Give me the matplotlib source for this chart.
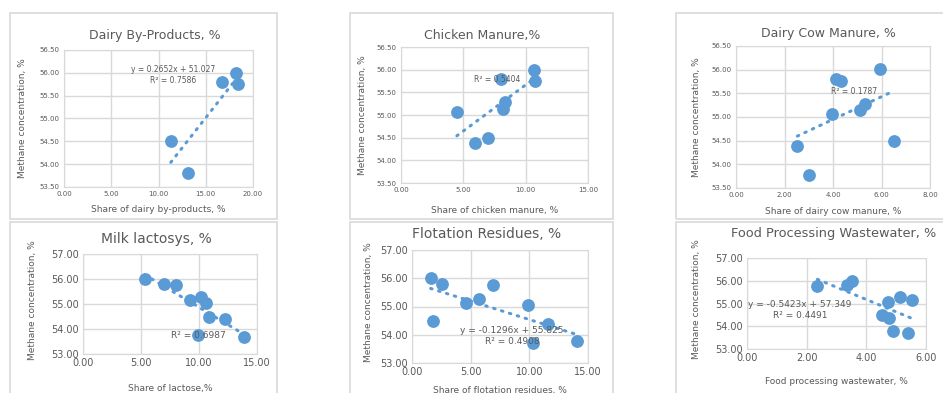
import numpy as np
import matplotlib
matplotlib.use("Agg")
import matplotlib.pyplot as plt
from matplotlib.patches import Rectangle

W, H = 943, 393
blue = "#5B9BD5"
grey = "#595959"
grid_c = "#D9D9D9"

# ~~~~~~~~ data ~~~~~~~~
dairy_x = [11.3, 13.15, 16.75, 18.25, 18.45]
dairy_y = [54.50, 53.80, 55.80, 56.00, 55.75]

chicken_x = [4.48, 5.92, 6.94, 8.06, 8.19, 8.33, 10.68, 10.73]
chicken_y = [55.07, 54.38, 54.50, 55.80, 55.14, 55.28, 56.00, 55.75]

cow_x = [2.53, 3.01, 3.95, 4.14, 4.33, 5.10, 5.34, 5.92, 6.51]
cow_y = [54.38, 53.78, 55.06, 55.81, 55.76, 55.14, 55.27, 56.01, 54.49]

lactose_x = [5.32, 7.01, 8.05, 9.25, 10.17, 9.95, 10.6, 10.86, 12.27, 13.85]
lactose_y = [56.00, 55.80, 55.76, 55.17, 55.27, 53.76, 55.06, 54.50, 54.40, 53.70]

flot_x = [1.59, 1.79, 2.59, 4.63, 5.71, 6.93, 9.89, 10.31, 11.59, 14.09]
flot_y = [56.01, 54.49, 55.81, 55.14, 55.28, 55.75, 55.06, 53.71, 54.39, 53.78]

food_x = [2.36, 3.35, 3.51, 4.72, 5.13, 5.54, 4.54, 4.77, 4.91, 5.39]
food_y = [55.76, 55.81, 56.01, 55.05, 55.28, 55.15, 54.50, 54.38, 53.81, 53.70]

titles = ["Dairy By-Products, %", "Chicken Manure,%", "Dairy Cow Manure, %",
          "Milk lactosys, %", "Flotation Residues, %", "Food Processing Wastewater, %"]
xlabels = ["Share of dairy by-products, %", "Share of chicken manure, %",
           "Share of dairy cow manure, %", "Share of lactose,%",
           "Share of flotation residues, %", "Food processing wastewater, %"]
ylabel = "Methane concentration, %"
trend_text = ["y = 0.2652x + 51.027\nR\u00b2 = 0.7586", "R\u00b2 = 0.5404", "R\u00b2 = 0.1787",
              "R\u00b2 = 0.6987", "y = -0.1296x + 55.825\nR\u00b2 = 0.4908",
              "y = -0.5423x + 57.349\nR\u00b2 = 0.4491"]
xticks_all = [[0, 5, 10, 15, 20], [0, 5, 10, 15], [0, 2, 4, 6, 8],
              [0, 5, 10, 15], [0, 5, 10, 15], [0, 2, 4, 6]]
ylims = [(53.5, 56.5)] * 3 + [(53, 57)] * 3
ysteps = [0.5] * 3 + [1.0] * 3

xs = [dairy_x, chicken_x, cow_x, lactose_x, flot_x, food_x]
ys = [dairy_y, chicken_y, cow_y, lactose_y, flot_y, food_y]

# ~~~~~~~~ layout in pixels ~~~~~~~~
frames = [(10, 13, 277, 219), (350, 13, 613, 219), (676, 13, 950, 219),
          (10, 222, 277, 400), (350, 222, 613, 400), (676, 222, 950, 400)]
plots = [(64, 50, 253, 187), (401, 47, 588, 183), (736, 46, 930, 188),
         (83, 254, 257, 354), (412, 250, 588, 363), (747, 258, 926, 349)]
title_pos = [(155, 35), (482, 35), (828, 33), (156, 239), (487, 234), (834, 234)]
ylab_x = [23, 362, 697, 32, 368, 696]
xlab_y = [210, 211, 211, 388, 390, 382]
text_pos = [(173, 75), (497, 79), (854, 91), (198, 336), (512, 336), (800, 310)]
tick_fs = [5, 5, 5, 7, 7, 7]
title_fs = [9, 9, 9, 10, 10, 9.3]

fig = plt.figure(figsize=(W / 100, H / 100), dpi=100)


def fx(x):
    return x / W


def fy(y):
    return 1 - y / H


for k in range(6):
    x0, y0, x1, y1 = frames[k]
    fig.patches.append(Rectangle((fx(x0), fy(y1)), fx(x1 - x0), (y1 - y0) / H,
                                 transform=fig.transFigure, fill=False,
                                 edgecolor=grid_c, lw=1.2))

    x0, y0, x1, y1 = plots[k]
    ax = fig.add_axes([fx(x0), fy(y1), fx(x1 - x0), (y1 - y0) / H])
    xd = np.array(xs[k])
    yd = np.array(ys[k])

    # linear trendline, fitted like Excel does
    p = np.polyfit(xd, yd, 1)
    xl = np.linspace(xd.min(), xd.max(), 50)
    ax.plot(xl, np.polyval(p, xl), ls=(0, (0.5, 2.2)), lw=2.2, color=blue,
            dash_capstyle="round", zorder=2)
    ax.scatter(xd, yd, s=85, color=blue, zorder=3, linewidths=0)

    xt = xticks_all[k]
    ax.set_xlim(xt[0], xt[-1])
    ax.set_ylim(*ylims[k])
    ax.set_xticks(xt)
    ax.set_yticks(np.arange(ylims[k][0], ylims[k][1] + 0.01, ysteps[k]))
    ax.xaxis.set_major_formatter(matplotlib.ticker.FormatStrFormatter("%.2f"))
    ax.yaxis.set_major_formatter(matplotlib.ticker.FormatStrFormatter("%.2f"))
    ax.tick_params(length=0, labelsize=tick_fs[k], labelcolor=grey, pad=3)
    ax.grid(True, color=grid_c, lw=1)
    ax.set_axisbelow(True)
    for s in ax.spines.values():
        s.set_color(grid_c)

    tx, ty = title_pos[k]
    fig.text(fx(tx), fy(ty), titles[k], ha="center", va="center",
             fontsize=title_fs[k], color=grey)
    fig.text(fx(ylab_x[k]), fy((y0 + y1) / 2 + (0 if k < 3 else -4)), ylabel,
             rotation=90, ha="center", va="center", fontsize=6.5, color=grey)
    fig.text(fx((x0 + x1) / 2), fy(xlab_y[k]), xlabels[k], ha="center",
             va="center", fontsize=6.5, color=grey)
    qx, qy = text_pos[k]
    fig.text(fx(qx), fy(qy), trend_text[k], ha="center", va="center",
             fontsize=5.5 if k < 3 else 6.5, color=grey, linespacing=1.3,
             zorder=1)

fig.savefig("out.png", dpi=100)
